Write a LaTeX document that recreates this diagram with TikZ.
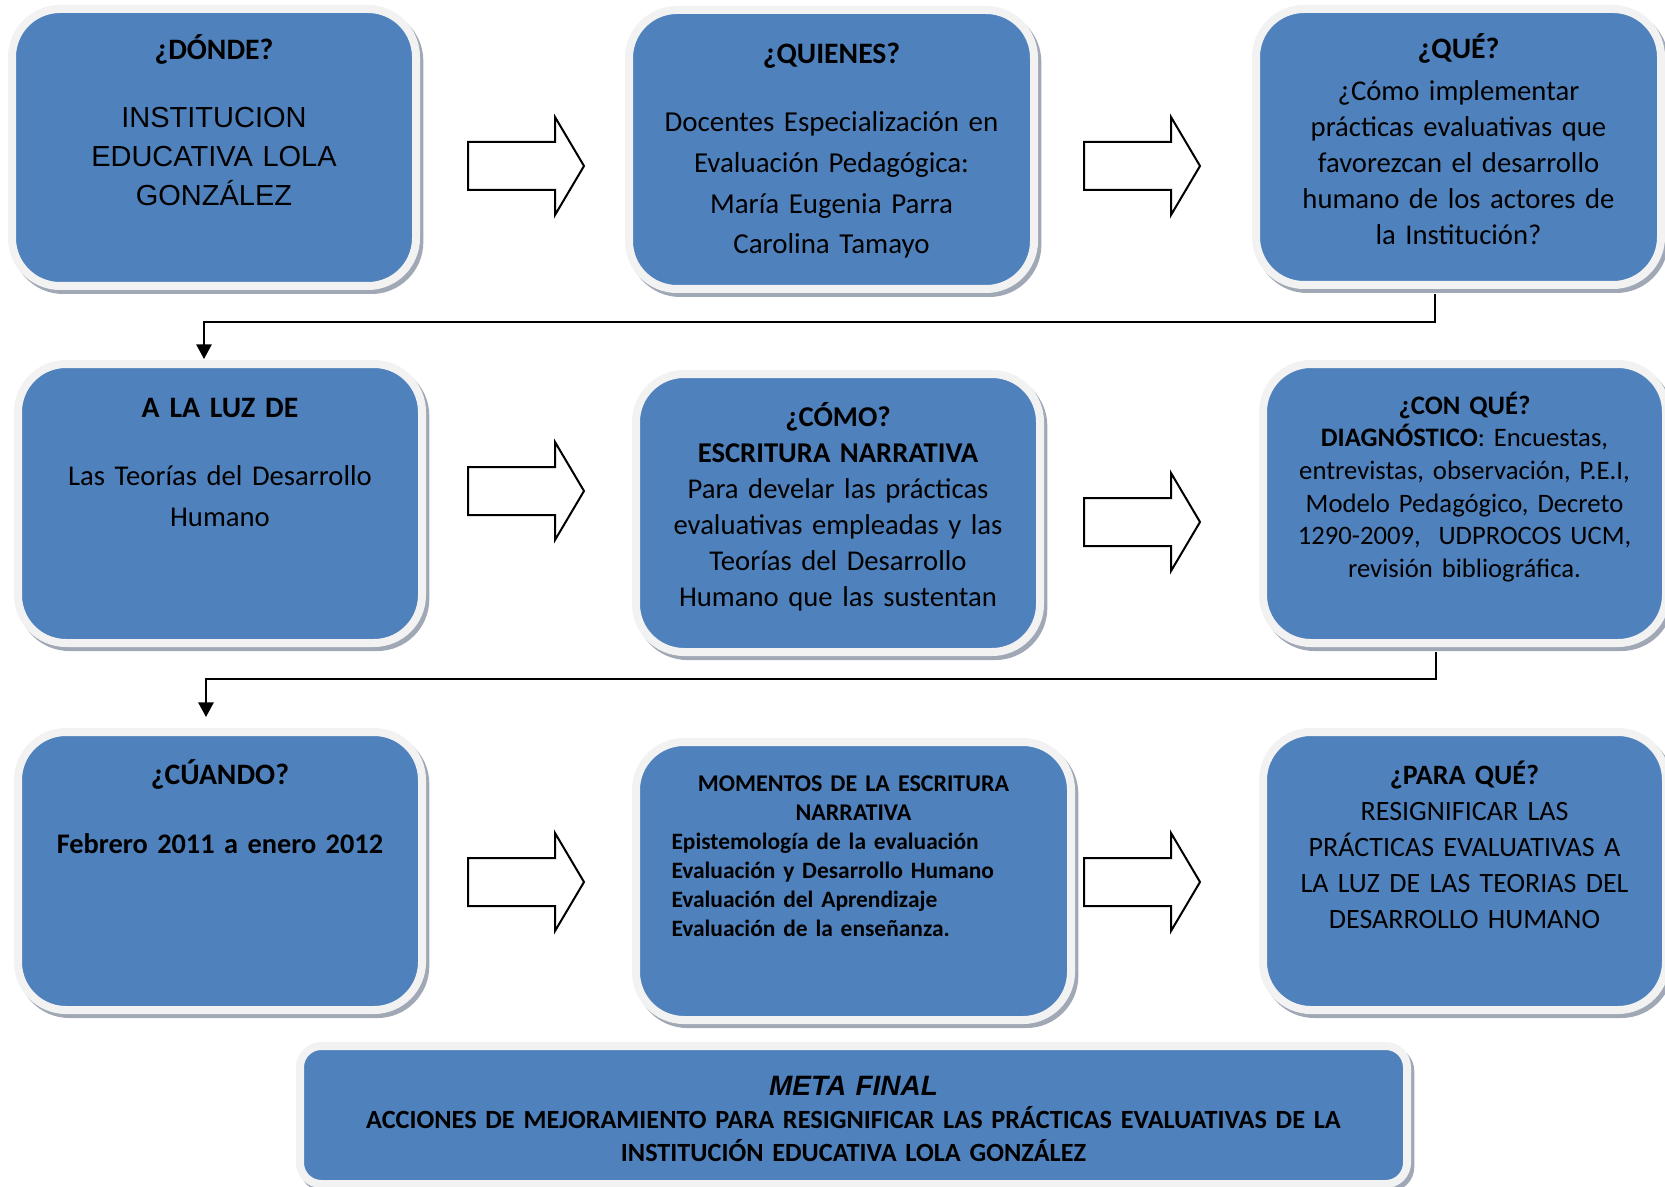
\documentclass[tikz,border=0pt]{standalone}
\usepackage{fontspec}
\setmainfont{Carlito}
\newfontfamily\arialfont{Liberation Sans}
\usetikzlibrary{arrows.meta,shadows,calc}

\tikzset{every picture/.style={line width=0.75pt}}
\tikzset{
  infobox/.style={draw={rgb, 255:red, 242; green, 242; blue, 242}, line width=6pt,
    fill={rgb, 255:red, 79; green, 129; blue, 189}, rounded corners=36pt, inner sep=0pt,
    drop shadow={shadow xshift=2.5pt, shadow yshift=-3pt, opacity=1,
      fill={rgb, 255:red, 160; green, 168; blue, 182}, draw={rgb, 255:red, 160; green, 168; blue, 182}, line width=6pt}},
  blockarrow/.style={draw=black, fill=white, line width=1.5pt, line join=miter},
  link/.style={draw=black, line width=1.5pt, -{Triangle[length=11pt,width=11.5pt]}},
  txt/.style={inner sep=0pt, anchor=base, align=center, text width=#1},
  txt/.default=290pt,
}

\begin{document}
\begin{tikzpicture}[x=0.75pt,y=0.75pt,yscale=-1,xscale=1]
\useasboundingbox (0,0) rectangle (1665,1187);

%Shape: Rounded Rect [row 1]
\node[infobox, minimum width=303pt, minimum height=207.75pt] (donde) at (214,147.5) {};
\node[infobox, minimum width=303.75pt, minimum height=209.25pt] (quienes) at (831.5,149.5) {};
\node[infobox, minimum width=303.75pt, minimum height=207pt] (que) at (1458.5,147) {};
%Shape: Rounded Rect [row 2]
\node[infobox, minimum width=303pt, minimum height=209.25pt] (luz) at (220,503.5) {};
\node[infobox, minimum width=303pt, minimum height=208.5pt] (como) at (838,513) {};
\node[infobox, minimum width=302.25pt, minimum height=209.25pt] (conque) at (1464.5,503.5) {};
%Shape: Rounded Rect [row 3]
\node[infobox, minimum width=303pt, minimum height=208.5pt] (cuando) at (220,871) {};
\node[infobox, minimum width=326.25pt, minimum height=208.5pt] (momentos) at (853.5,881) {};
\node[infobox, minimum width=302.25pt, minimum height=208.5pt] (paraque) at (1464.5,871) {};
%Shape: Rounded Rect [meta]
\node[infobox, rounded corners=16pt, minimum width=830.25pt, minimum height=103.5pt] (meta) at (853.5,1115) {};

%Shape: Right Arrow
\draw[blockarrow, shift={(468,166)}] (0,-24) -- (87,-24) -- (87,-49) -- (116,0) -- (87,49) -- (87,24) -- (0,24) -- cycle;
%Shape: Right Arrow
\draw[blockarrow, shift={(1084,166)}] (0,-24) -- (87,-24) -- (87,-49) -- (116,0) -- (87,49) -- (87,24) -- (0,24) -- cycle;
%Shape: Right Arrow
\draw[blockarrow, shift={(468,491)}] (0,-24) -- (87,-24) -- (87,-49) -- (116,0) -- (87,49) -- (87,24) -- (0,24) -- cycle;
%Shape: Right Arrow
\draw[blockarrow, shift={(1084,522)}] (0,-24) -- (87,-24) -- (87,-49) -- (116,0) -- (87,49) -- (87,24) -- (0,24) -- cycle;
%Shape: Right Arrow
\draw[blockarrow, shift={(468,882)}] (0,-24) -- (87,-24) -- (87,-49) -- (116,0) -- (87,49) -- (87,24) -- (0,24) -- cycle;
%Shape: Right Arrow
\draw[blockarrow, shift={(1084,882)}] (0,-24) -- (87,-24) -- (87,-49) -- (116,0) -- (87,49) -- (87,24) -- (0,24) -- cycle;

%Connector
\draw[link] ($(que.south)+(-23.5,5)$) -- ++(0,28) -| ($(luz.north)+(-16,-1)$);
%Connector
\draw[link] ($(conque.south)+(-28.5,5)$) -- ++(0,27) -| ($(cuando.north)+(-14,-11)$);

% Text Node
\node[txt, font=\fontsize{22.25}{25}\selectfont\bfseries] (dondeT) at (214,60) {¿DÓNDE?};
% Text Node
\node[txt, font=\arialfont\fontsize{21.75}{28.9}\selectfont] (dondeB) at (214,128) {INSTITUCION\\EDUCATIVA LOLA\\GONZÁLEZ};
% Text Node
\node[txt, font=\fontsize{22.25}{25}\selectfont\bfseries] (quienesT) at (831.5,64) {¿QUIENES?};
% Text Node
\node[txt, font=\fontsize{21.7}{30.5}\selectfont] (quienesB) at (831.5,132) {Docentes Especialización en\\Evaluación Pedagógica:\\María Eugenia Parra\\Carolina Tamayo};
% Text Node
\node[txt, font=\fontsize{22.25}{25}\selectfont\bfseries] (queT) at (1458.5,59) {¿QUÉ?};
% Text Node
\node[txt, font=\fontsize{21.5}{27}\selectfont] (queB) at (1458.5,101) {¿Cómo implementar\\prácticas evaluativas que\\favorezcan el desarrollo\\humano de los actores de\\la Institución?};
% Text Node
\node[txt, font=\fontsize{22.25}{25}\selectfont\bfseries] (luzT) at (220,417) {A LA LUZ DE};
% Text Node
\node[txt, font=\fontsize{21.5}{30.75}\selectfont] (luzB) at (220,485) {Las Teorías del Desarrollo\\Humano};
% Text Node
\node[txt, font=\fontsize{21.5}{27}\selectfont] (comoB) at (838,426) {\textbf{¿CÓMO?}\\\textbf{ESCRITURA NARRATIVA}\\Para develar las prácticas\\evaluativas empleadas y las\\Teorías del Desarrollo\\Humano que las sustentan};
% Text Node
\node[txt, font=\fontsize{20}{24.5}\selectfont] (conqueB) at (1464.5,414) {\textbf{¿CON QUÉ?}\\\textbf{DIAGNÓSTICO}: Encuestas,\\entrevistas, observación, P.E.I,\\Modelo Pedagógico, Decreto\\1290-2009,~ UDPROCOS UCM,\\revisión bibliográfica.};
% Text Node
\node[txt, font=\fontsize{22.25}{25}\selectfont\bfseries] (cuandoT) at (220,784) {¿CÚANDO?};
% Text Node
\node[txt, font=\fontsize{21.25}{27}\selectfont\bfseries] (cuandoB) at (220,853) {Febrero 2011 a enero 2012};
% Text Node
\node[txt, font=\fontsize{18}{21.9}\selectfont\bfseries] (momentosT) at (853.5,791) {MOMENTOS DE LA ESCRITURA\\NARRATIVA};
% Text Node
\node[txt=300pt, anchor=base west, align=left, font=\fontsize{17.6}{21.9}\selectfont\bfseries] (momentosB) at (671,849) {Epistemología de la evaluación\\Evaluación y Desarrollo Humano\\Evaluación del Aprendizaje\\Evaluación de la enseñanza.};
% Text Node
\node[txt, font=\fontsize{21}{27}\selectfont] (paraqueB) at (1464.5,784) {\textbf{¿PARA QUÉ?}\\RESIGNIFICAR LAS\\PRÁCTICAS EVALUATIVAS A\\LA LUZ DE LAS TEORIAS DEL\\DESARROLLO HUMANO};
% Text Node
\node[txt=800pt, font=\arialfont\fontsize{21}{25}\selectfont\bfseries\itshape] (metaT) at (853.5,1095) {META FINAL};
% Text Node
\node[txt=800pt, font=\fontsize{19.7}{24.75}\selectfont\bfseries] (metaB) at (853.5,1128) {ACCIONES DE MEJORAMIENTO PARA RESIGNIFICAR LAS PRÁCTICAS EVALUATIVAS DE LA\\INSTITUCIÓN EDUCATIVA LOLA GONZÁLEZ};

\end{tikzpicture}
\end{document}
